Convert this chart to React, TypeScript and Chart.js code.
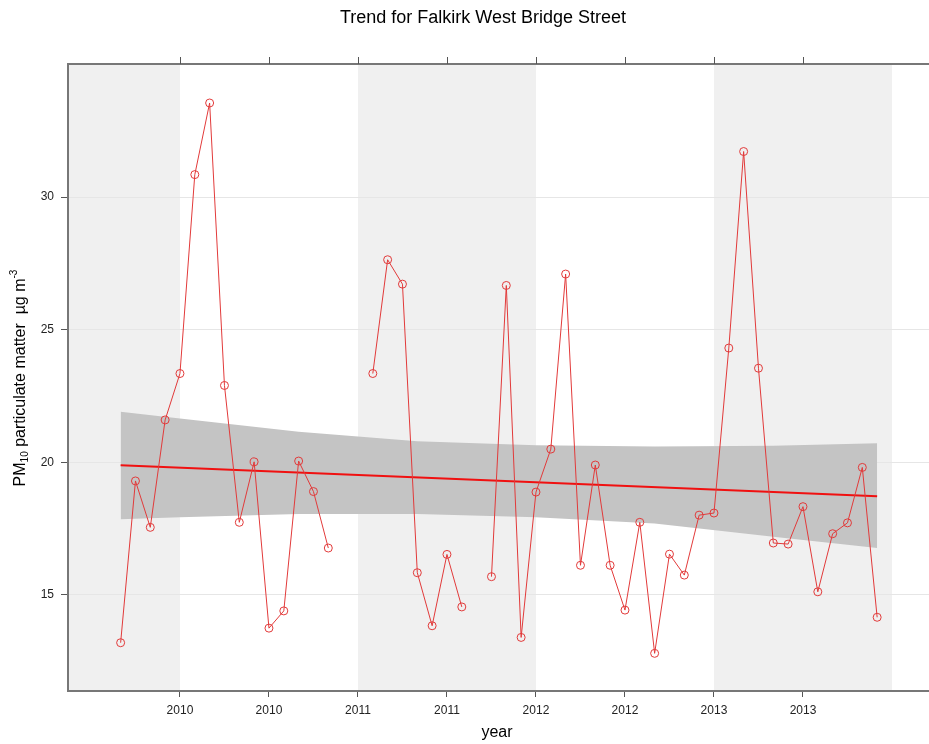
import React, { useEffect, useRef } from "react";
import { Chart, registerables } from "chart.js";

Chart.register(...registerables);

const FONT = '"Liberation Sans", Arial, sans-serif';

const titleText = "Trend for Falkirk West Bridge Street";
const xAxisLabel = "year";

const months = [
  "2009-09", "2009-10", "2009-11", "2009-12",
  "2010-01", "2010-02", "2010-03", "2010-04", "2010-05", "2010-06",
  "2010-07", "2010-08", "2010-09", "2010-10", "2010-11", "2010-12",
  "2011-01", "2011-02", "2011-03", "2011-04", "2011-05", "2011-06",
  "2011-07", "2011-08", "2011-09", "2011-10", "2011-11", "2011-12",
  "2012-01", "2012-02", "2012-03", "2012-04", "2012-05", "2012-06",
  "2012-07", "2012-08", "2012-09", "2012-10", "2012-11", "2012-12",
  "2013-01", "2013-02", "2013-03", "2013-04", "2013-05", "2013-06",
  "2013-07", "2013-08", "2013-09", "2013-10", "2013-11", "2013-12",
];

const pm10: (number | null)[] = [
  13.2, 19.3, 17.55, 21.6,
  23.35, 30.85, 33.55, 22.9, 17.74, 20.02,
  13.75, 14.4, 20.05, 18.9, 16.77, null,
  null, 23.35, 27.64, 26.72, 15.84, 13.84,
  16.53, 14.55, null, 15.69, 26.67, 13.4,
  18.88, 20.5, 27.1, 16.12, 19.9, 16.12,
  14.43, 17.74, 12.8, 16.54, 15.75, 18.01,
  18.09, 24.31, 31.72, 23.55, 16.96, 16.92,
  18.33, 15.12, 17.31, 17.72, 19.81, 14.16,
];

const trendMonths = ["2009-09", "2013-12"];
const trendValues = [19.89, 18.72];

const bandMonths = ["2009-09", "2010-01", "2010-09", "2011-05", "2012-01", "2012-09", "2013-05", "2013-12"];
const bandUpper = [21.91, 21.65, 21.15, 20.8, 20.65, 20.6, 20.63, 20.72];
const bandLower = [17.86, 17.93, 18.05, 18.05, 17.93, 17.7, 17.2, 16.77];

const shadedYears = [2009, 2011, 2013];

const xTickValues = [2010, 2010.5, 2011, 2011.5, 2012, 2012.5, 2013, 2013.5];
const xTickLabels = ["2010", "2010", "2011", "2011", "2012", "2012", "2013", "2013"];
const yTickValues = [15, 20, 25, 30];

const toYear = (m: string) => {
  const [y, mo] = m.split("-").map(Number);
  return y + (mo - 1) / 12;
};

const decorPlugin = {
  id: "decor",
  beforeDraw(chart: any) {
    const { ctx, chartArea, scales } = chart;
    const x = scales.x;
    ctx.save();
    ctx.fillStyle = "#f0f0f0";
    for (const yr of shadedYears) {
      const a = Math.max(x.getPixelForValue(yr), chartArea.left);
      const b = Math.min(x.getPixelForValue(yr + 1), chartArea.right);
      if (b > a) ctx.fillRect(a, chartArea.top, b - a, chartArea.bottom - chartArea.top);
    }
    ctx.restore();
  },
  afterDraw(chart: any) {
    const { ctx, chartArea, scales } = chart;
    const x = scales.x;
    ctx.save();
    ctx.strokeStyle = "#777";
    ctx.lineWidth = 2;
    ctx.beginPath();
    ctx.moveTo(chartArea.left - 1, chartArea.top);
    ctx.lineTo(chart.width, chartArea.top);
    ctx.stroke();
    ctx.strokeStyle = "#555";
    ctx.lineWidth = 1;
    for (const v of xTickValues) {
      const px = Math.round(x.getPixelForValue(v)) + 0.5;
      ctx.beginPath();
      ctx.moveTo(px, chartArea.top - 7);
      ctx.lineTo(px, chartArea.top);
      ctx.stroke();
    }
    ctx.fillStyle = "#000";
    ctx.textAlign = "center";
    ctx.textBaseline = "middle";
    ctx.font = `18px ${FONT}`;
    ctx.fillText(titleText, 483, 18);
    ctx.font = `16px ${FONT}`;
    ctx.fillText(xAxisLabel, 497, 733);
    ctx.translate(19, 378);
    ctx.rotate(-Math.PI / 2);
    ctx.textAlign = "left";
    ctx.textBaseline = "alphabetic";
    const big = `16px ${FONT}`;
    const small = `10px ${FONT}`;
    const parts: [string, string, number][] = [
      ["PM", big, 0],
      ["10", small, 3],
      [" particulate matter  \u00b5g m", big, 0],
      ["-3", small, -8],
    ];
    let total = 0;
    for (const [t, f] of parts) {
      ctx.font = f;
      total += ctx.measureText(t).width;
    }
    let cx = -total / 2;
    for (const [t, f, dy] of parts) {
      ctx.font = f;
      ctx.fillText(t, cx, 6 + dy);
      cx += ctx.measureText(t).width;
    }
    ctx.restore();
  },
};

export default function App() {
  const ref = useRef<HTMLCanvasElement>(null);
  useEffect(() => {
    const canvas = ref.current!;
    const chart = new Chart(canvas, {
      type: "line",
      data: {
        datasets: [
          {
            label: "pm10",
            data: months.map((m, i) => ({ x: toYear(m), y: pm10[i] })) as any,
            borderColor: "#e23a3a",
            borderWidth: 1,
            pointRadius: 4,
            pointStyle: "circle",
            pointBackgroundColor: "rgba(0,0,0,0)",
            pointBorderColor: "#e23a3a",
            pointBorderWidth: 1,
            spanGaps: false,
            tension: 0,
            fill: false,
          },
          {
            label: "trend",
            data: trendMonths.map((m, i) => ({ x: toYear(m), y: trendValues[i] })),
            borderColor: "#f01010",
            borderWidth: 2,
            pointRadius: 0,
            fill: false,
          },
          {
            label: "lower",
            data: bandMonths.map((m, i) => ({ x: toYear(m), y: bandLower[i] })),
            borderWidth: 0,
            borderColor: "rgba(0,0,0,0)",
            pointRadius: 0,
            tension: 0,
            fill: false,
          },
          {
            label: "upper",
            data: bandMonths.map((m, i) => ({ x: toYear(m), y: bandUpper[i] })),
            borderWidth: 0,
            borderColor: "rgba(0,0,0,0)",
            backgroundColor: "#c4c4c4",
            pointRadius: 0,
            tension: 0,
            fill: 2,
          },
        ],
      },
      options: {
        animation: false,
        responsive: false,
        devicePixelRatio: 1,
        layout: { autoPadding: false, padding: { top: 64, left: 0, right: 0, bottom: 0 } },
        plugins: {
          legend: { display: false },
          tooltip: { enabled: false },
          title: { display: false },
        },
        scales: {
          x: {
            type: "linear",
            min: 2009.371,
            max: 2014.208,
            afterBuildTicks: (s: any) => {
              s.ticks = xTickValues.map((v) => ({ value: v }));
            },
            afterFit: (s: any) => {
              s.height = 53;
            },
            ticks: {
              callback: (_v: any, i: number) => xTickLabels[i],
              font: { family: FONT, size: 12 },
              color: "#222",
              padding: 6,
              maxRotation: 0,
              autoSkip: false,
            },
            grid: {
              drawOnChartArea: false,
              drawTicks: true,
              tickLength: 6,
              tickColor: "#555",
              tickWidth: 1,
            },
            border: { display: true, color: "#777", width: 2 },
          },
          y: {
            type: "linear",
            min: 11.38,
            max: 35.02,
            afterBuildTicks: (s: any) => {
              s.ticks = yTickValues.map((v) => ({ value: v }));
            },
            afterFit: (s: any) => {
              s.width = 68;
            },
            ticks: {
              font: { family: FONT, size: 12 },
              color: "#222",
              padding: 7,
            },
            grid: {
              color: "#e6e6e6",
              lineWidth: 1,
              drawTicks: true,
              tickLength: 7,
              tickColor: "#555",
              tickWidth: 1,
            },
            border: { display: true, color: "#777", width: 2 },
          },
        },
      },
      plugins: [decorPlugin],
    } as any);
    return () => chart.destroy();
  }, []);
  return (
    <div style={{ position: "fixed", left: 0, top: 0, width: 929, height: 744, background: "#fff" }}>
      <canvas ref={ref} width={929} height={744} style={{ width: "929px", height: "744px", display: "block" }} />
    </div>
  );
}
